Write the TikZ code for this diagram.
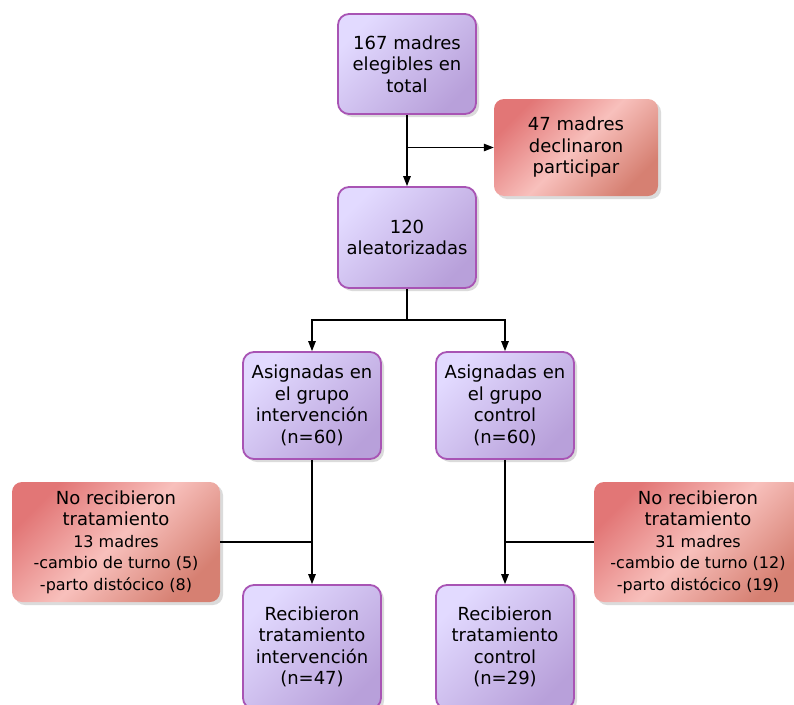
\documentclass[tikz,border=0pt]{standalone}
\usepackage{fontspec}
\setmainfont{DejaVu Sans}
\usetikzlibrary{arrows.meta,shadows}
\definecolor{lavA}{RGB}{226,218,255}
\definecolor{lavB}{RGB}{184,160,218}
\definecolor{lavBorder}{RGB}{168,84,180}
\definecolor{redA}{RGB}{226,118,118}
\definecolor{redM}{RGB}{248,192,188}
\definecolor{redB}{RGB}{214,128,114}
\begin{document}
\begin{tikzpicture}[x=1pt,y=-1pt,
  shadowed/.style={drop shadow={shadow xshift=3pt, shadow yshift=-3pt, fill=black!35, opacity=0.4}},
  purp/.style={shadowed, draw=lavBorder, line width=1.8pt, rounded corners=11pt,
    top color=lavA, bottom color=lavB, shading angle=45,
    align=center, font=\fontsize{18}{21.5}\selectfont,
    minimum width=138pt, minimum height=100pt, inner sep=0pt},
  redbox/.style={shadowed, rounded corners=10pt,
    top color=redA, bottom color=redB, middle color=redM, shading angle=45,
    align=center, font=\fontsize{18}{21.5}\selectfont, inner sep=0pt},
  conn/.style={line width=1.2pt, draw=black},
  arr/.style={conn, -{Triangle[length=10pt,width=7.5pt]}}
]
\useasboundingbox (0,0) rectangle (794,704);

\node[purp] (n1) at (407,64) {167 madres\\elegibles en\\total};
\node[redbox, minimum width=164pt, minimum height=97pt] (n2) at (576,147.5) {47 madres\\declinaron\\participar};
\node[purp, minimum height=101pt] (n3) at (407,237.5) {120\\aleatorizadas};
\node[purp, minimum height=107pt] (n4) at (312,405.5) {Asignadas en\\el grupo\\intervención\\(n=60)};
\node[purp, minimum height=107pt] (n5) at (505,405.5) {Asignadas en\\el grupo\\control\\(n=60)};
\node[redbox, minimum width=208pt, minimum height=120pt] (r1) at (116,542)
  {No recibieron\\tratamiento\\{\fontsize{16}{19}\selectfont 13 madres}\\{\fontsize{16}{19}\selectfont -cambio de turno (5)}\\{\fontsize{16}{19}\selectfont -parto distócico (8)}};
\node[redbox, minimum width=208pt, minimum height=120pt] (r2) at (698,542)
  {No recibieron\\tratamiento\\{\fontsize{16}{19}\selectfont 31 madres}\\{\fontsize{16}{19}\selectfont -cambio de turno (12)}\\{\fontsize{16}{19}\selectfont -parto distócico (19)}};
\node[purp, minimum height=124pt] (n8) at (312,647) {Recibieron\\tratamiento\\intervención\\(n=47)};
\node[purp, minimum height=124pt] (n9) at (505,647) {Recibieron\\tratamiento\\control\\(n=29)};

\coordinate (split) at (407,320);
\draw[arr] (n1) -- (n3);
\draw[arr] (n1.south |- n2.west) -- (n2.west);
\draw[conn] (n3.south) -- (split);
\draw[arr] (split) -| (n4.north);
\draw[arr] (split) -| (n5.north);
\draw[arr] (n4) -- (n8);
\draw[arr] (n5) -- (n9);
\draw[conn] (r1.east) -- (r1.east -| n4.south);
\draw[conn] (r2.west) -- (r2.west -| n5.south);
\end{tikzpicture}
\end{document}
